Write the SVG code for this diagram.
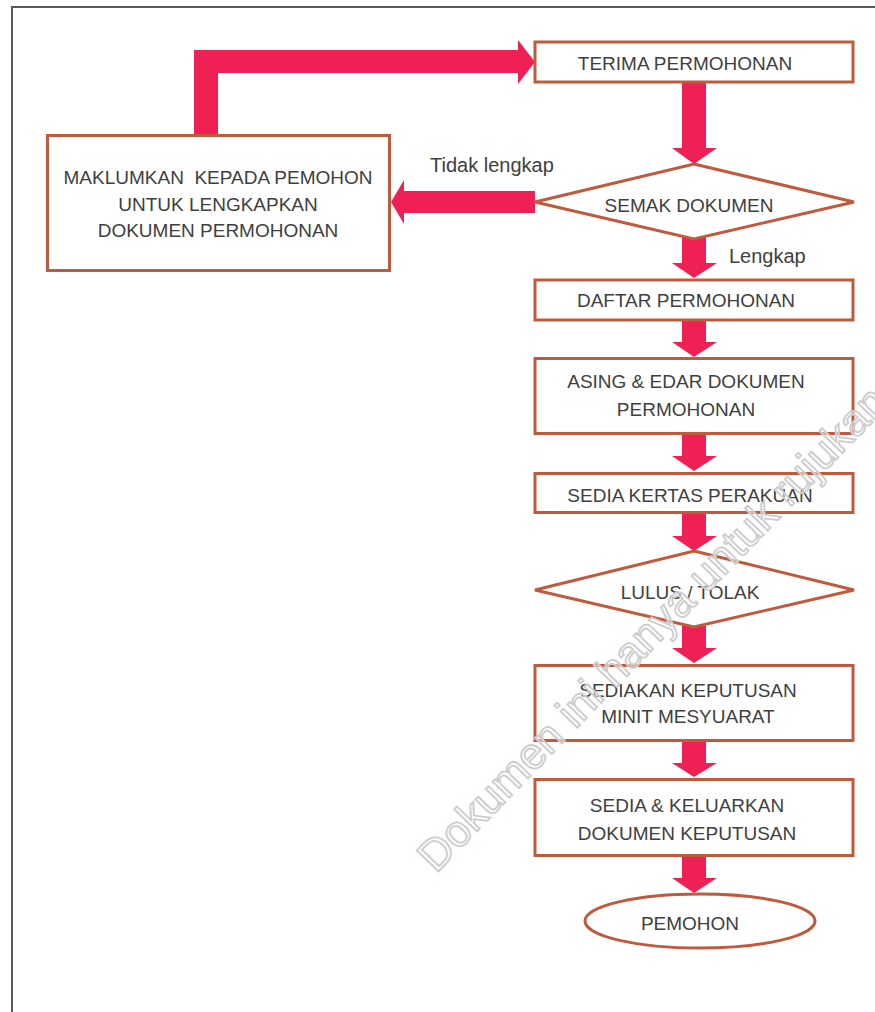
<svg xmlns="http://www.w3.org/2000/svg" width="875" height="1012" viewBox="0 0 875 1012">
<style>
.box{fill:#fff;stroke:#c05a3c;stroke-width:3}
.arr{fill:#ef2154}
.t{font-family:"Liberation Sans",Arial,sans-serif;font-size:19px;fill:#404040;text-anchor:middle}
.lbl{font-family:"Liberation Sans",Arial,sans-serif;font-size:20px;fill:#404040}
.wm{font-family:"Liberation Sans",Arial,sans-serif;font-size:44px;fill:#fff;fill-opacity:0.5;stroke:#cdcdcd;stroke-width:1.8}
</style>
<rect width="875" height="1012" fill="#fff"/>
<path d="M12,1012 V7 H875" fill="none" stroke="#5a5a5a" stroke-width="2"/>
<g id="connectors">
<polygon class="arr" points="194,134 194,50 518,50 518,40 535,62 518,84 518,73 218,73 218,134"/>
<polygon class="arr" points="535,191 404,191 404,180 391,202 404,224 404,213 535,213"/>
<polygon class="arr" points="682,83 706,83 706,148 717,148 694,164 672,148 682,148"/>
<polygon class="arr" points="682,238 706,238 706,263 717,263 694,278 672,263 682,263"/>
<polygon class="arr" points="682,320 706,320 706,342 717,342 694,357 672,342 682,342"/>
<polygon class="arr" points="682,435 706,435 706,456 717,456 694,471 672,456 682,456"/>
<polygon class="arr" points="682,514 706,514 706,536 717,536 694,551 672,536 682,536"/>
<polygon class="arr" points="682,626 706,626 706,648 717,648 694,663 672,648 682,648"/>
<polygon class="arr" points="682,742 706,742 706,763 717,763 694,777 672,763 682,763"/>
<polygon class="arr" points="682,857 706,857 706,878 717,878 694,893 672,878 682,878"/>
<text class="lbl" x="430" y="172">Tidak lengkap</text>
<text class="lbl" x="729" y="263">Lengkap</text>
</g>
<g id="terima">
<rect class="box" x="535" y="42" width="318" height="40"/>
<text class="t" x="685" y="70">TERIMA PERMOHONAN</text>
</g>
<g id="maklumkan">
<rect class="box" x="47.5" y="135.5" width="342" height="135"/>
<text class="t" x="218" y="184" xml:space="preserve">MAKLUMKAN  KEPADA PEMOHON</text>
<text class="t" x="218" y="211">UNTUK LENGKAPKAN</text>
<text class="t" x="218" y="237">DOKUMEN PERMOHONAN</text>
</g>
<g id="semak">
<polygon class="box" points="694,164 854,202 694,239 535,202"/>
<text class="t" x="689" y="212">SEMAK DOKUMEN</text>
</g>
<g id="daftar">
<rect class="box" x="535" y="280" width="318" height="40"/>
<text class="t" x="686" y="307">DAFTAR PERMOHONAN</text>
</g>
<g id="asing">
<rect class="box" x="535" y="358.5" width="318" height="75"/>
<text class="t" x="686" y="388">ASING &amp; EDAR DOKUMEN</text>
<text class="t" x="686" y="416">PERMOHONAN</text>
</g>
<g id="sedia-kertas">
<rect class="box" x="535" y="473.5" width="318" height="39"/>
<text class="t" x="690" y="502">SEDIA KERTAS PERAKUAN</text>
</g>
<g id="lulus">
<polygon class="box" points="694,551 854,590 694,627 535,590"/>
<text class="t" x="690" y="599">LULUS / TOLAK</text>
</g>
<g id="sediakan">
<rect class="box" x="535" y="665.5" width="318" height="75"/>
<text class="t" x="688" y="697">SEDIAKAN KEPUTUSAN</text>
<text class="t" x="688" y="723">MINIT MESYUARAT</text>
</g>
<g id="keluarkan">
<rect class="box" x="535" y="779.5" width="318" height="76"/>
<text class="t" x="687" y="812">SEDIA &amp; KELUARKAN</text>
<text class="t" x="687" y="840">DOKUMEN KEPUTUSAN</text>
</g>
<g id="pemohon">
<ellipse class="box" cx="700" cy="921" rx="115" ry="27"/>
<text class="t" x="690" y="930">PEMOHON</text>
</g>
<text class="wm" transform="translate(436,874) rotate(-46)">Dokumen ini hanya untuk rujukan</text>
</svg>
